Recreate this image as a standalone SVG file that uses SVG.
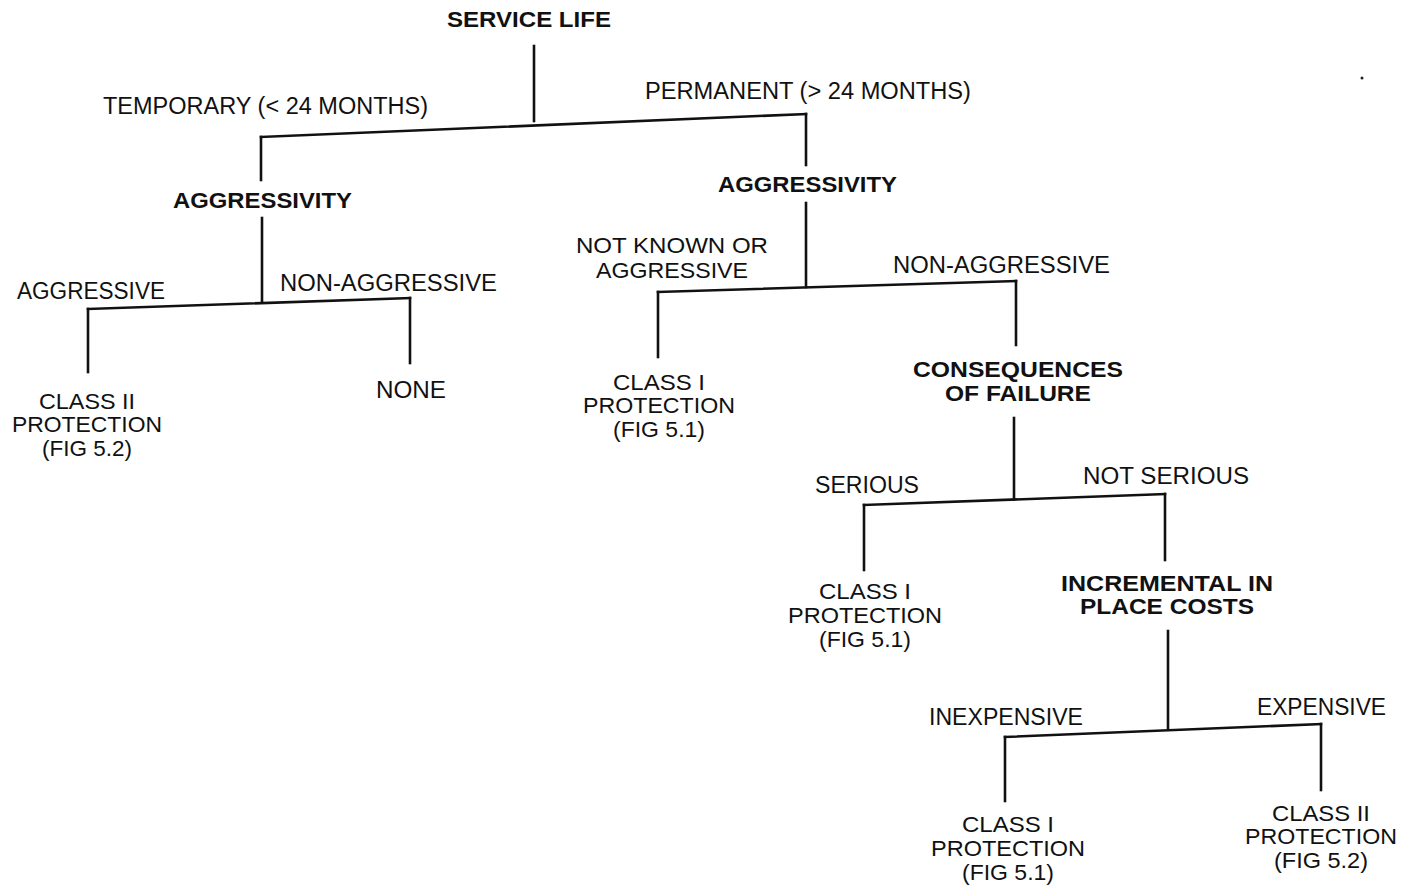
<svg xmlns="http://www.w3.org/2000/svg" width="1416" height="888" viewBox="0 0 1416 888">
<style>
text{font-family:"Liberation Sans",Arial,sans-serif;font-size:23px;fill:#111;text-anchor:middle}
.s{font-size:21.5px}
.b{font-weight:bold;font-size:21.5px}
.c line{stroke:#111;stroke-width:2.6;stroke-linecap:square}
</style>
<rect width="1416" height="888" fill="#fff"/>
<g class="c" id="connectors">
<line x1="534" y1="46" x2="534" y2="121"/>
<line x1="261" y1="137" x2="806" y2="114"/>
<line x1="261" y1="137" x2="261" y2="180"/>
<line x1="806" y1="114" x2="806" y2="165"/>
<line x1="262" y1="218" x2="262" y2="301"/>
<line x1="88" y1="309" x2="410" y2="298"/>
<line x1="88" y1="309" x2="88" y2="372"/>
<line x1="410" y1="298" x2="410" y2="363"/>
<line x1="806" y1="203" x2="806" y2="287"/>
<line x1="658" y1="292" x2="1016" y2="281"/>
<line x1="658" y1="292" x2="658" y2="357"/>
<line x1="1016" y1="281" x2="1016" y2="345"/>
<line x1="1014" y1="418" x2="1014" y2="499"/>
<line x1="864" y1="505" x2="1165" y2="494"/>
<line x1="864" y1="505" x2="864" y2="570"/>
<line x1="1165" y1="494" x2="1165" y2="560"/>
<line x1="1168" y1="631" x2="1168" y2="728"/>
<line x1="1005" y1="737" x2="1321" y2="724"/>
<line x1="1005" y1="737" x2="1005" y2="801"/>
<line x1="1321" y1="724" x2="1321" y2="790"/>
</g>
<g id="edge-labels">
<text x="265.5" y="114" textLength="325" lengthAdjust="spacingAndGlyphs">TEMPORARY (&lt; 24 MONTHS)</text>
<text x="808" y="99" textLength="326" lengthAdjust="spacingAndGlyphs">PERMANENT (&gt; 24 MONTHS)</text>
<text x="91" y="299" textLength="148" lengthAdjust="spacingAndGlyphs">AGGRESSIVE</text>
<text x="388.5" y="291" textLength="217" lengthAdjust="spacingAndGlyphs">NON-AGGRESSIVE</text>
<text class="s" x="672" y="253" textLength="192" lengthAdjust="spacingAndGlyphs">NOT KNOWN OR</text>
<text class="s" x="672" y="278" textLength="152" lengthAdjust="spacingAndGlyphs">AGGRESSIVE</text>
<text x="1001.5" y="273" textLength="217" lengthAdjust="spacingAndGlyphs">NON-AGGRESSIVE</text>
<text x="867" y="493" textLength="104" lengthAdjust="spacingAndGlyphs">SERIOUS</text>
<text x="1166" y="484" textLength="166" lengthAdjust="spacingAndGlyphs">NOT SERIOUS</text>
<text x="1006" y="725" textLength="154" lengthAdjust="spacingAndGlyphs">INEXPENSIVE</text>
<text x="1321.5" y="715" textLength="129" lengthAdjust="spacingAndGlyphs">EXPENSIVE</text>
</g>
<g id="n-service-life"><text class="b" x="529" y="27" textLength="164" lengthAdjust="spacingAndGlyphs">SERVICE LIFE</text></g>
<g id="n-aggressivity-temp"><text class="b" x="262.5" y="208" textLength="179" lengthAdjust="spacingAndGlyphs">AGGRESSIVITY</text></g>
<g id="n-aggressivity-perm"><text class="b" x="807.5" y="192" textLength="179" lengthAdjust="spacingAndGlyphs">AGGRESSIVITY</text></g>
<g id="n-class2-a" class="s">
<text class="s" x="87" y="409" textLength="96" lengthAdjust="spacingAndGlyphs">CLASS II</text>
<text class="s" x="87" y="432" textLength="150" lengthAdjust="spacingAndGlyphs">PROTECTION</text>
<text class="s" x="87" y="456" textLength="90" lengthAdjust="spacingAndGlyphs">(FIG 5.2)</text>
</g>
<g id="n-none"><text x="411" y="398" textLength="70" lengthAdjust="spacingAndGlyphs">NONE</text></g>
<g id="n-class1-a">
<text class="s" x="659" y="390" textLength="92" lengthAdjust="spacingAndGlyphs">CLASS I</text>
<text class="s" x="659" y="413" textLength="152" lengthAdjust="spacingAndGlyphs">PROTECTION</text>
<text class="s" x="659" y="437" textLength="92" lengthAdjust="spacingAndGlyphs">(FIG 5.1)</text>
</g>
<g id="n-consequences">
<text class="b" x="1018" y="377" textLength="210" lengthAdjust="spacingAndGlyphs">CONSEQUENCES</text>
<text class="b" x="1018" y="401" textLength="146" lengthAdjust="spacingAndGlyphs">OF FAILURE</text>
</g>
<g id="n-class1-b">
<text class="s" x="865" y="599" textLength="92" lengthAdjust="spacingAndGlyphs">CLASS I</text>
<text class="s" x="865" y="623" textLength="154" lengthAdjust="spacingAndGlyphs">PROTECTION</text>
<text class="s" x="865" y="647" textLength="92" lengthAdjust="spacingAndGlyphs">(FIG 5.1)</text>
</g>
<g id="n-incremental">
<text class="b" x="1167" y="591" textLength="212" lengthAdjust="spacingAndGlyphs">INCREMENTAL IN</text>
<text class="b" x="1167" y="614" textLength="174" lengthAdjust="spacingAndGlyphs">PLACE COSTS</text>
</g>
<g id="n-class1-c">
<text class="s" x="1008" y="832" textLength="92" lengthAdjust="spacingAndGlyphs">CLASS I</text>
<text class="s" x="1008" y="856" textLength="154" lengthAdjust="spacingAndGlyphs">PROTECTION</text>
<text class="s" x="1008" y="880" textLength="92" lengthAdjust="spacingAndGlyphs">(FIG 5.1)</text>
</g>
<g id="n-class2-b">
<text class="s" x="1321" y="821" textLength="98" lengthAdjust="spacingAndGlyphs">CLASS II</text>
<text class="s" x="1321" y="844" textLength="152" lengthAdjust="spacingAndGlyphs">PROTECTION</text>
<text class="s" x="1321" y="868" textLength="94" lengthAdjust="spacingAndGlyphs">(FIG 5.2)</text>
</g>
<circle cx="1362" cy="78" r="1.5" fill="#222"/>
</svg>
